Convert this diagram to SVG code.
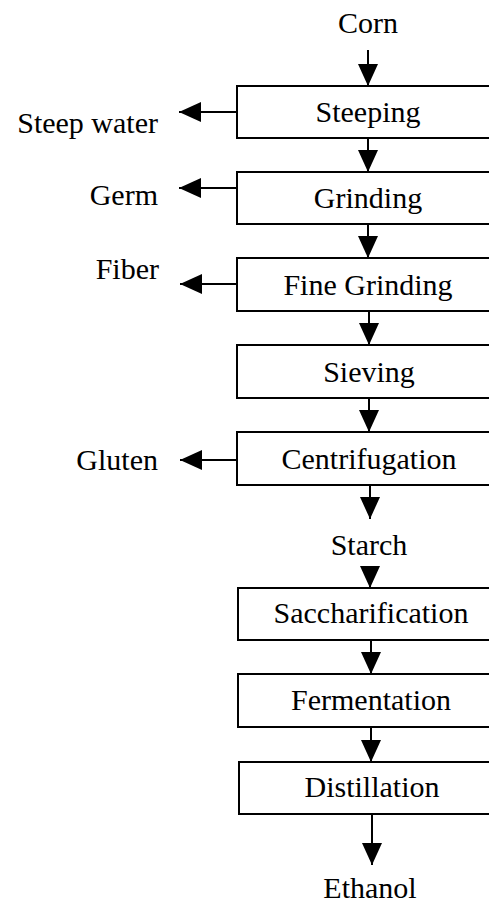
<svg xmlns="http://www.w3.org/2000/svg" width="489" height="903" viewBox="0 0 489 903">
  <style>
    .t { font-family: Liberation Serif, Times New Roman, Times, serif; font-size: 30px; fill: #000; }
    .c { text-anchor: middle; }
    .l { text-anchor: end; }
    .box { fill: #fff; stroke: #000; stroke-width: 2; }
    .conn line { stroke: #000; stroke-width: 2; marker-end: url(#ah); }
  </style>
  <defs>
    <marker id="ah" viewBox="0 0 22 20" refX="22" refY="10" markerWidth="22" markerHeight="20" markerUnits="userSpaceOnUse" orient="auto">
      <path d="M0,0 L22,10 L0,20 z" fill="#000"/>
    </marker>
  </defs>

  <g id="corn"><text class="t c" x="368" y="33">Corn</text></g>
  <g id="steeping"><rect class="box" x="237" y="86" width="270" height="52"/><text class="t c" x="368" y="122">Steeping</text></g>
  <g id="steepwater"><text class="t l" x="158" y="133">Steep water</text></g>
  <g id="grinding"><rect class="box" x="237" y="172" width="270" height="52"/><text class="t c" x="368" y="208">Grinding</text></g>
  <g id="germ"><text class="t l" x="158" y="205">Germ</text></g>
  <g id="finegrinding"><rect class="box" x="237" y="258" width="270" height="53"/><text class="t c" x="368" y="295">Fine Grinding</text></g>
  <g id="fiber"><text class="t l" x="159" y="279">Fiber</text></g>
  <g id="sieving"><rect class="box" x="237" y="345" width="270" height="53"/><text class="t c" x="369" y="382">Sieving</text></g>
  <g id="centrifugation"><rect class="box" x="237" y="432" width="270" height="53"/><text class="t c" x="369" y="469">Centrifugation</text></g>
  <g id="gluten"><text class="t l" x="158" y="470">Gluten</text></g>
  <g id="starch"><text class="t c" x="369" y="555">Starch</text></g>
  <g id="saccharification"><rect class="box" x="238" y="588" width="270" height="52"/><text class="t c" x="371" y="623">Saccharification</text></g>
  <g id="fermentation"><rect class="box" x="238" y="674" width="270" height="53"/><text class="t c" x="371" y="710">Fermentation</text></g>
  <g id="distillation"><rect class="box" x="239" y="762" width="270" height="52"/><text class="t c" x="372" y="797">Distillation</text></g>
  <g id="ethanol"><text class="t c" x="370" y="898">Ethanol</text></g>

  <g id="connectors" class="conn">
    <line x1="368" y1="50" x2="368" y2="86"/>
    <line x1="368" y1="138" x2="368" y2="172"/>
    <line x1="368" y1="224" x2="368" y2="258"/>
    <line x1="369" y1="311" x2="369" y2="345"/>
    <line x1="369" y1="398" x2="369" y2="432"/>
    <line x1="370" y1="485" x2="370" y2="519"/>
    <line x1="370" y1="570" x2="370" y2="588"/>
    <line x1="371" y1="640" x2="371" y2="674"/>
    <line x1="371" y1="727" x2="371" y2="762"/>
    <line x1="372" y1="814" x2="372" y2="865"/>
    <line x1="237" y1="112" x2="179" y2="112"/>
    <line x1="237" y1="188" x2="179" y2="188"/>
    <line x1="237" y1="284" x2="180" y2="284"/>
    <line x1="237" y1="460" x2="180" y2="460"/>
  </g>
</svg>
